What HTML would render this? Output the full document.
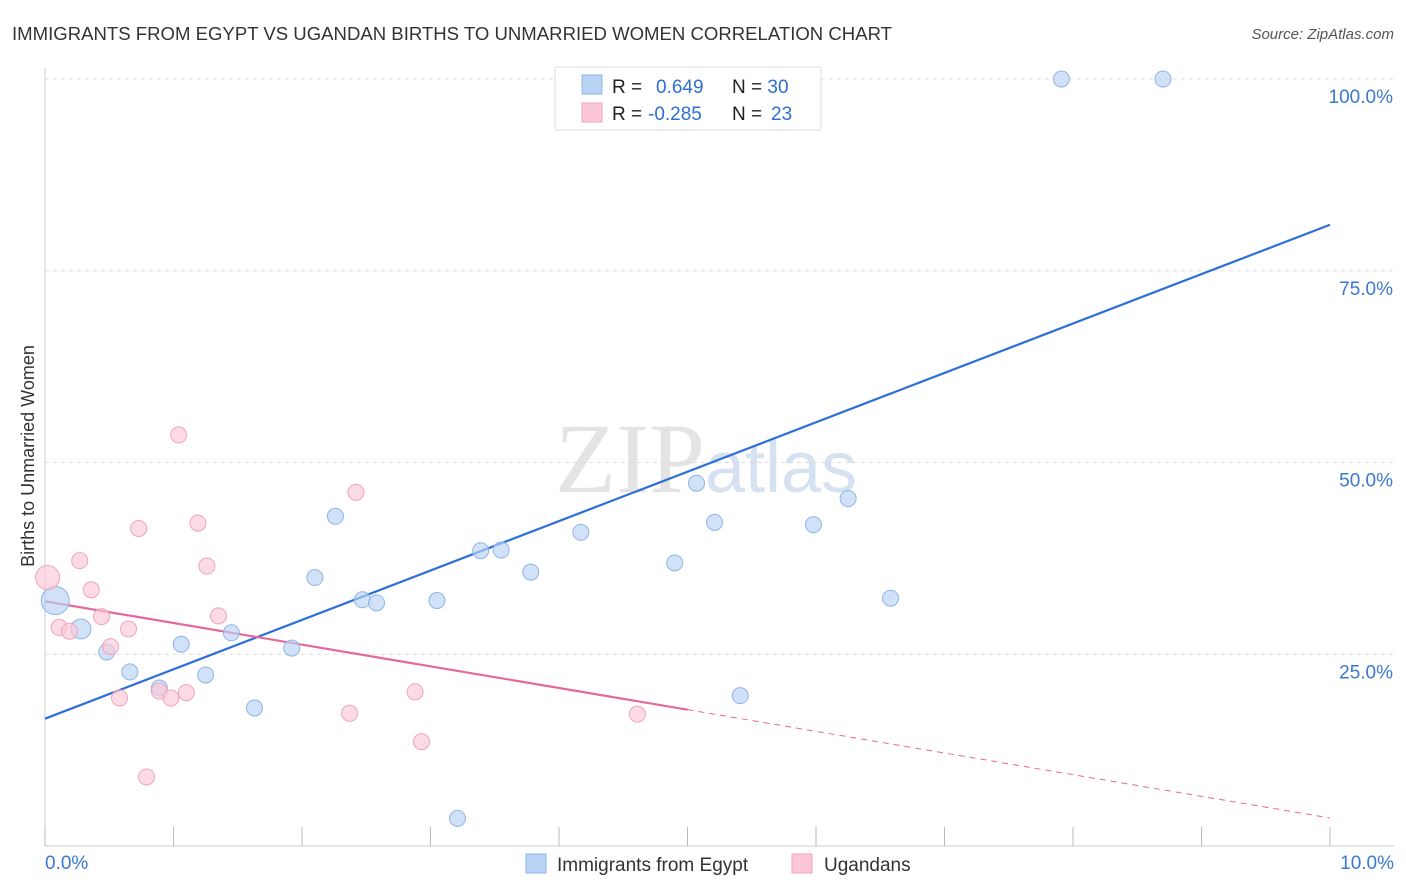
<!DOCTYPE html>
<html><head><meta charset="utf-8"><style>
body{margin:0;background:#fff;font-family:"Liberation Sans",sans-serif;}
svg{display:block}
</style></head><body>
<svg id="chart" width="1406" height="892">
<text x="12" y="40" font-size="18" fill="#333" textLength="880" lengthAdjust="spacingAndGlyphs">IMMIGRANTS FROM EGYPT VS UGANDAN BIRTHS TO UNMARRIED WOMEN CORRELATION CHART</text>
<text x="1394" y="39" font-size="15" fill="#555" text-anchor="end" font-style="italic">Source: ZipAtlas.com</text>
<text x="34" y="456" font-size="18" fill="#333" transform="rotate(-90 34 456)" text-anchor="middle">Births to Unmarried Women</text>
<text x="555" y="492" font-size="100" fill="#e4e4e4" font-family="Liberation Serif,serif">ZIP<tspan fill="#d6e2f2" font-family="Liberation Sans,sans-serif" font-size="72">atlas</tspan></text>
<g id="grid"></g><g id="lines"></g><g id="points"></g>
<g>
<rect x="555" y="67" width="266" height="63" fill="#fff" stroke="#ddd"/>
<rect x="582" y="75" width="20" height="19" fill="#b9d3f5" stroke="#8fb5e8"/>
<rect x="582" y="103" width="20" height="19" fill="#fbc7d6" stroke="#f0a3bb"/>
<text x="612" y="93" font-size="19" fill="#222">R = <tspan fill="#2d6fd0" x="656">0.649</tspan><tspan x="732" fill="#222">N = </tspan><tspan fill="#2d6fd0">30</tspan></text>
<text x="612" y="120" font-size="19" fill="#222">R = <tspan fill="#2d6fd0" x="648">-0.285</tspan><tspan x="732" fill="#222">N = </tspan><tspan fill="#2d6fd0" x="771">23</tspan></text>
</g>
<g>
<rect x="526" y="854" width="20" height="19" fill="#b9d3f5" stroke="#8fb5e8"/>
<text x="557" y="871" font-size="19" fill="#333">Immigrants from Egypt</text>
<rect x="792" y="854" width="20" height="19" fill="#fbc7d6" stroke="#f0a3bb"/>
<text x="824" y="871" font-size="19" fill="#333">Ugandans</text>
</g>
</svg>
<script>
const xTicks=[0,1,2,3,4,5,6,7,8,9,10];
const yTicks=[25,50,75,100];
const yTickLabels=["25.0%","50.0%","75.0%","100.0%"];
const xEndLabels=["0.0%","10.0%"];
const egyptX=[0.08,0.28,0.48,0.66,0.89,1.06,1.25,1.45,1.63,1.92,2.10,2.26,2.47,2.58,3.05,3.21,3.39,3.55,3.78,4.17,4.90,5.07,5.21,5.41,5.98,6.25,6.58,7.91,8.70,4.42];
const egyptY=[32.0,28.3,25.3,22.7,20.6,26.3,22.3,27.8,18.0,25.8,35.0,43.0,32.1,31.7,32.0,3.6,38.5,38.6,35.7,40.9,36.9,47.3,42.2,19.6,41.9,45.3,32.3,100,100,100];
const egyptR=[14,10,8,8,8,8,8,8,8,8,8,8,8,8,8,8,8,8,8,8,8,8,8,8,8,8,8,8,8,8];
const ugX=[0.02,0.11,0.19,0.27,0.36,0.44,0.51,0.58,0.65,0.73,0.79,0.89,0.98,1.04,1.10,1.19,1.26,1.35,2.37,2.42,2.88,2.93,4.61];
const ugY=[35.0,28.5,28.0,37.2,33.4,29.9,26.0,19.3,28.3,41.4,9.0,20.2,19.3,53.6,20.0,42.1,36.5,30.0,17.3,46.1,20.1,13.6,17.2];
const ugR=[12,8,8,8,8,8,8,8,8,8,8,8,8,8,8,8,8,8,8,8,8,8,8];
const blueFit=[16.6,81.0];
const pinkFit=[31.9,3.65];
const pinkSolidEnd=5.0;
const X=v=>45+v*128.5, Y=v=>846-v*7.67;
const NS="http://www.w3.org/2000/svg";
function mk(t,a,p){const e=document.createElementNS(NS,t);for(const k in a)e.setAttribute(k,a[k]);p.appendChild(e);return e;}
const grid=document.getElementById('grid');
mk('line',{x1:45,y1:68,x2:45,y2:846,stroke:'#ccc'},grid);
mk('line',{x1:45,y1:846,x2:1394,y2:846,stroke:'#ccc'},grid);
yTicks.forEach((t,i)=>{
 const g=mk('line',{x1:45,y1:Y(t),x2:1394,y2:Y(t),stroke:'#ddd','stroke-dasharray':'4,4'},grid);
 
 const tx=mk('text',{x:1393,y:Y(t)+24,'font-size':19,fill:'#3a78d4','text-anchor':'end'},grid);tx.textContent=yTickLabels[i];
 
});
xTicks.forEach(t=>{const l=mk('line',{x1:X(t),y1:827,x2:X(t),y2:846,stroke:'#bbb'},grid);
 });
let t0=mk('text',{x:45,y:869,'font-size':19,fill:'#3a78d4'},grid);t0.textContent=xEndLabels[0];

let t1=mk('text',{x:1394,y:869,'font-size':19,fill:'#3a78d4','text-anchor':'end'},grid);t1.textContent=xEndLabels[1];

const pts=document.getElementById('points');
egyptX.forEach((x,i)=>{const c=mk('circle',{cx:X(x),cy:Y(egyptY[i]),r:egyptR[i],fill:'rgba(185,211,245,0.65)',stroke:'#8fb5e8'},pts);
 });
ugX.forEach((x,i)=>{const c=mk('circle',{cx:X(x),cy:Y(ugY[i]),r:ugR[i],fill:'rgba(251,199,214,0.65)',stroke:'#f0a3bb'},pts);
 });
const ln=document.getElementById('lines');
const f=(fit,x)=>fit[0]+(fit[1]-fit[0])*x/10;
let b=mk('line',{x1:X(0),y1:Y(f(blueFit,0)),x2:X(10),y2:Y(f(blueFit,10)),stroke:'#2d6fd8','stroke-width':2.2},ln);

let p1=mk('line',{x1:X(0),y1:Y(f(pinkFit,0)),x2:X(pinkSolidEnd),y2:Y(f(pinkFit,pinkSolidEnd)),stroke:'#e8679a','stroke-width':2.2},ln);

let p2=mk('line',{x1:X(pinkSolidEnd),y1:Y(f(pinkFit,pinkSolidEnd)),x2:X(10),y2:Y(f(pinkFit,10)),stroke:'#e8679a','stroke-width':1,'stroke-dasharray':'6,5'},ln);

</script>
</body></html>
